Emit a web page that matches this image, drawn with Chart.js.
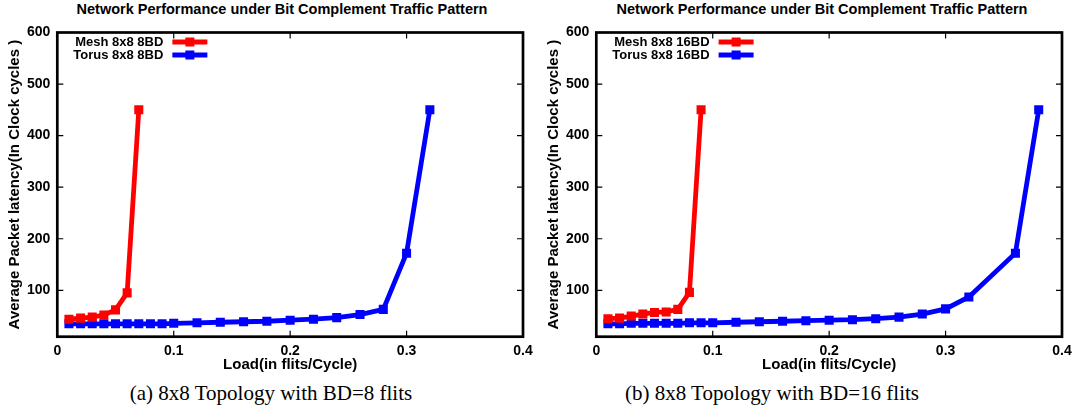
<!DOCTYPE html>
<html>
<head>
<meta charset="utf-8">
<script src="https://cdn.jsdelivr.net/npm/chart.js@4"></script>
<style>
    body { margin: 0; background: #fff; width: 1076px; height: 415px; position: relative; overflow: hidden; }
    .plot { position: absolute; top: 0; }
    .title {
        position: absolute; top: 1px; width: 540px; text-align: center;
        font: bold 14.5px "Liberation Sans", Arial, sans-serif; color: #000;
    }
    .caption {
        position: absolute; top: 381px; width: 540px; text-align: center;
        font: 21px "Liberation Serif", "Times New Roman", serif; color: #000;
    }
</style>
</head>
<body>
<div class="title" style="left:12px">Network Performance under Bit Complement Traffic Pattern</div>
<div class="title" style="left:552px">Network Performance under Bit Complement Traffic Pattern</div>
<canvas id="chartA" class="plot" style="left:0px" width="540" height="376"></canvas>
<canvas id="chartB" class="plot" style="left:539px" width="540" height="376"></canvas>
<div class="caption" style="left:1px">(a) 8x8 Topology with BD=8 flits</div>
<div class="caption" style="left:502px">(b) 8x8 Topology with BD=16 flits</div>

<script>
// load values (flits/cycle) and average latency (clock cycles)
const meshLoadA = [0.01, 0.02, 0.03, 0.04, 0.05, 0.06, 0.07];
const meshLatA = [44, 46, 48, 52, 62, 95, 450];
const torusLoadA = [0.01, 0.02, 0.03, 0.04, 0.05, 0.06, 0.07, 0.08, 0.09, 0.10,
    0.12, 0.14, 0.16, 0.18, 0.20, 0.22, 0.24, 0.26, 0.28, 0.30, 0.32];
const torusLatA = [35, 35, 35, 35, 35, 35, 35, 35, 35, 36,
    37, 38, 39, 40, 42, 44, 47, 53, 63, 172, 450];

const meshLoadB = [0.01, 0.02, 0.03, 0.04, 0.05, 0.06, 0.07, 0.08, 0.09];
const meshLatB = [45, 46, 50, 54, 57, 58, 63, 96, 450];
const torusLoadB = [0.01, 0.02, 0.03, 0.04, 0.05, 0.06, 0.07, 0.08, 0.09, 0.10,
    0.12, 0.14, 0.16, 0.18, 0.20, 0.22, 0.24, 0.26, 0.28, 0.30, 0.32, 0.36, 0.38];
const torusLatB = [35, 35, 36, 36, 36, 36, 36, 37, 37, 37,
    38, 39, 40, 41, 42, 43, 45, 48, 54, 64, 87, 172, 450];

const xTicks = [0, 0.1, 0.2, 0.3, 0.4];
const yTicks = [100, 200, 300, 400, 500, 600];

const FONT = '"Liberation Sans", Arial, sans-serif';

// gnuplot-style frame: thick border, inward mirrored ticks, key in the top-left corner
const framePlugin = {
    id: 'frame',
    afterDraw(chart) {
        const ctx = chart.ctx;
        const a = chart.chartArea;
        const xs = chart.scales.x, ys = chart.scales.y;
        ctx.save();
        ctx.strokeStyle = '#000';
        ctx.lineWidth = 1.2;
        ctx.beginPath();
        xs.ticks.forEach(t => {
            const px = xs.getPixelForValue(t.value);
            ctx.moveTo(px, a.bottom); ctx.lineTo(px, a.bottom - 6);
            ctx.moveTo(px, a.top); ctx.lineTo(px, a.top + 6);
        });
        ys.ticks.forEach(t => {
            const py = ys.getPixelForValue(t.value);
            ctx.moveTo(a.left, py); ctx.lineTo(a.left + 6, py);
            ctx.moveTo(a.right, py); ctx.lineTo(a.right - 6, py);
        });
        ctx.stroke();
        ctx.lineWidth = 2.7;
        ctx.strokeRect(a.left, a.top, a.right - a.left, a.bottom - a.top);

        // key
        ctx.font = 'bold 13px ' + FONT;
        ctx.textAlign = 'right';
        ctx.textBaseline = 'middle';
        const sets = chart.data.datasets;
        const widest = Math.max(...sets.map(d => ctx.measureText(d.label).width));
        const textEnd = a.left + 16 + widest;
        sets.forEach((d, i) => {
            const y = a.top + 9.5 + i * 13;
            ctx.fillStyle = '#000';
            ctx.fillText(d.label, textEnd, y);
            ctx.strokeStyle = d.borderColor;
            ctx.lineWidth = 4.8;
            ctx.beginPath();
            ctx.moveTo(textEnd + 9, y);
            ctx.lineTo(textEnd + 44, y);
            ctx.stroke();
            ctx.fillStyle = d.borderColor;
            ctx.fillRect(textEnd + 26.5 - 4.5, y - 4.5, 9, 9);
        });
        ctx.restore();
    }
};

function series(xs, ys) {
    return xs.map((x, i) => ({ x: x, y: ys[i] }));
}

function makeChart(id, meshLabel, torusLabel, meshLoad, meshLat, torusLoad, torusLat) {
    const lineStyle = {
        borderWidth: 4.8,
        pointStyle: 'rect',
        pointRadius: 6.4,
        pointBorderWidth: 0,
        tension: 0,
        fill: false
    };
    return new Chart(document.getElementById(id), {
        type: 'line',
        data: {
            datasets: [
                Object.assign({
                    label: meshLabel,
                    data: series(meshLoad, meshLat),
                    borderColor: '#ff0000',
                    backgroundColor: '#ff0000'
                }, lineStyle),
                Object.assign({
                    label: torusLabel,
                    data: series(torusLoad, torusLat),
                    borderColor: '#0000ff',
                    backgroundColor: '#0000ff'
                }, lineStyle)
            ]
        },
        options: {
            responsive: false,
            animation: false,
            layout: { padding: { top: 32.5, right: 17, left: 0, bottom: 2 } },
            plugins: { legend: { display: false }, tooltip: { enabled: false } },
            scales: {
                x: {
                    type: 'linear',
                    min: 0,
                    max: 0.4,
                    afterBuildTicks: s => { s.ticks = xTicks.map(v => ({ value: v })); },
                    afterFit: s => { s.height = 37.3; },
                    grid: { drawOnChartArea: false, drawTicks: false },
                    border: { display: false },
                    ticks: {
                        padding: 6,
                        color: '#000',
                        font: { family: FONT, size: 14, weight: 'bold' },
                        callback: v => v === 0 ? '0' : v.toFixed(1)
                    },
                    title: {
                        display: true,
                        text: 'Load(in flits/Cycle)',
                        color: '#000',
                        padding: 0,
                        font: { family: FONT, size: 15, weight: 'bold' }
                    }
                },
                y: {
                    min: 10,
                    max: 600,
                    afterBuildTicks: s => { s.ticks = yTicks.map(v => ({ value: v })); },
                    afterFit: s => { s.width = 57.3; },
                    grid: { drawOnChartArea: false, drawTicks: false },
                    border: { display: false },
                    ticks: {
                        padding: 7,
                        color: '#000',
                        font: { family: FONT, size: 14, weight: 'bold' }
                    },
                    title: {
                        display: true,
                        text: 'Average Packet latency(In Clock cycles )',
                        color: '#000',
                        padding: { top: 6, bottom: 0 },
                        font: { family: FONT, size: 15, weight: 'bold' }
                    }
                }
            }
        },
        plugins: [framePlugin]
    });
}

makeChart('chartA', 'Mesh 8x8 8BD', 'Torus 8x8 8BD', meshLoadA, meshLatA, torusLoadA, torusLatA);
makeChart('chartB', 'Mesh 8x8 16BD', 'Torus 8x8 16BD', meshLoadB, meshLatB, torusLoadB, torusLatB);
</script>
</body>
</html>
